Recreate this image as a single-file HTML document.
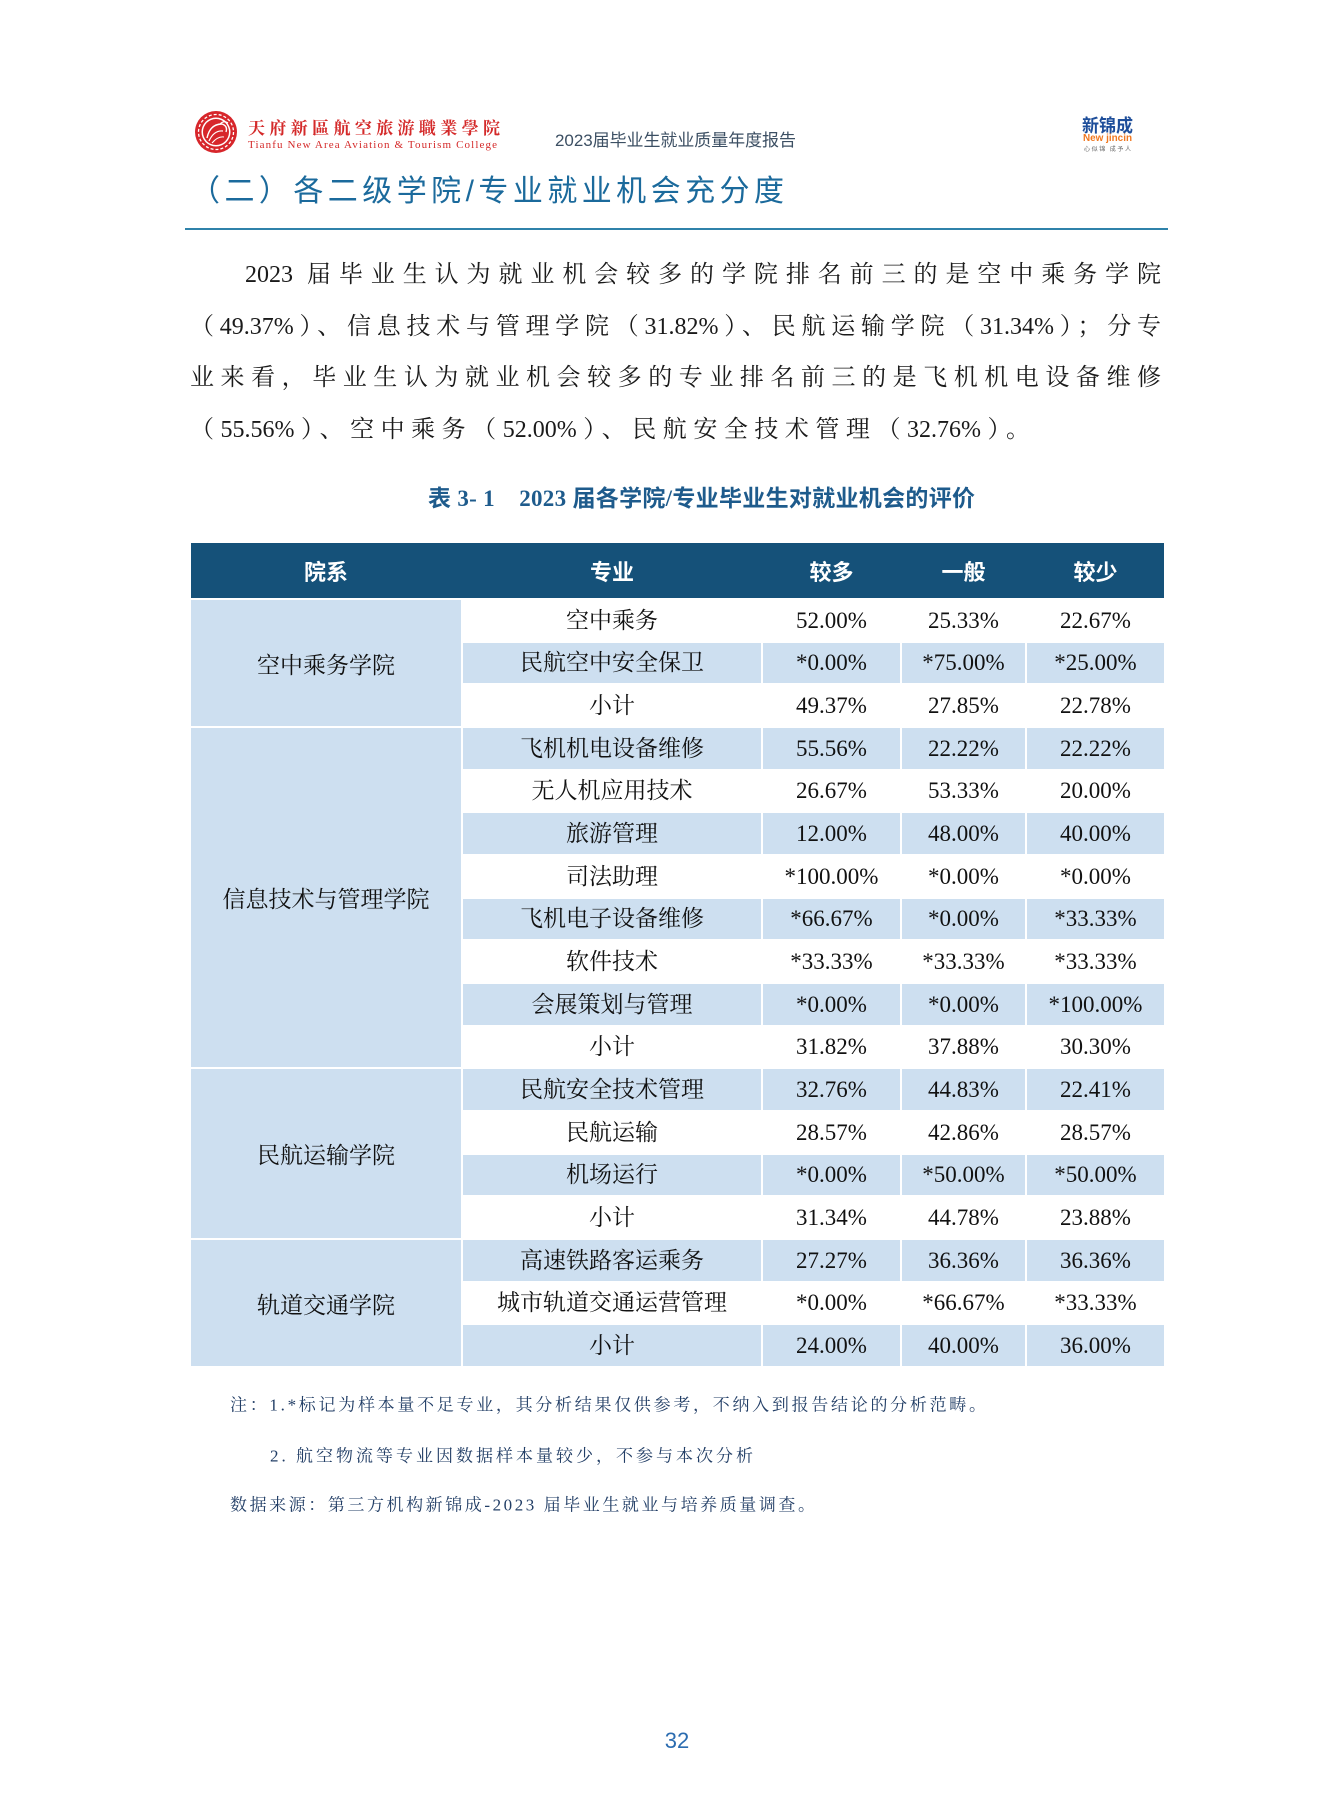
<!DOCTYPE html>
<html lang="zh-CN">
<head>
<meta charset="utf-8">
<style>
  html,body{margin:0;padding:0;background:#fff;}
  body{width:1323px;height:1795px;position:relative;overflow:hidden;}
  .abs{position:absolute;}
  .title{position:absolute;left:190px;top:170px;height:44px;line-height:44px;font-family:"Liberation Sans","Noto Sans CJK SC",sans-serif;font-size:30px;letter-spacing:4.45px;color:#1b6a9c;white-space:nowrap;}
  .rule{position:absolute;left:185px;top:228px;width:983px;height:2px;background:#2f82aa;}
  .pl{position:absolute;height:52px;line-height:52px;font-family:"Liberation Serif","Noto Serif CJK SC",serif;font-size:24px;color:#1a1a1a;text-align:justify;text-align-last:justify;}
  .n{font-family:"Liberation Serif",serif;}
  .hdr{position:absolute;left:191px;top:543px;width:973px;height:55px;background:#155179;}
  .h{position:absolute;top:543px;height:55px;display:flex;align-items:center;justify-content:center;color:#fff;font-family:"Liberation Sans","Noto Sans CJK SC",sans-serif;font-weight:bold;font-size:22px;}
  .r{position:absolute;left:0;width:1323px;height:40.67px;}
  .c{position:absolute;top:0;height:40.67px;display:flex;align-items:center;justify-content:center;font-family:"Liberation Serif","Noto Serif CJK SC",serif;font-size:23px;color:#111;line-height:1;white-space:nowrap;}
  .s .c{background:#cddff0;}
  .m{left:463px;width:298px;}
  .a{left:763px;width:137px;}
  .b{left:902px;width:123px;}
  .d{left:1027px;width:137px;}
  .col{position:absolute;left:191px;width:270px;background:#cddff0;display:flex;align-items:center;justify-content:center;font-family:"Liberation Serif","Noto Serif CJK SC",serif;font-size:23px;color:#111;}
</style>
</head>
<body>

<!-- Header logos -->
<svg class="abs" style="left:0;top:0" width="1323" height="240" xmlns="http://www.w3.org/2000/svg">
  <circle cx="216" cy="132" r="21" fill="#d7262b"/>
  <circle cx="216" cy="132" r="17.5" fill="none" stroke="#fff" stroke-width="1.3" stroke-dasharray="3 2"/>
  <circle cx="216" cy="132" r="14.5" fill="#fff"/>
  <circle cx="216" cy="132" r="13" fill="#d7262b"/>
  <path d="M207 138 Q210 124 222 124 Q228 126 226 132" fill="none" stroke="#fff" stroke-width="1.4"/>
  <path d="M209 141 Q214 130 223 131" fill="none" stroke="#fff" stroke-width="1.2"/>
  <path d="M212 143 Q218 136 224 137" fill="none" stroke="#fff" stroke-width="1.1"/>
  <path d="M220 124 Q224 120 228 123" fill="none" stroke="#fff" stroke-width="1.2"/>
  <text x="248" y="134" font-family="'Liberation Serif','Noto Serif CJK TC',serif" font-size="17" font-weight="bold" fill="#d42a2a" textLength="252" lengthAdjust="spacing">天府新區航空旅游職業學院</text>
  <text x="248" y="148" font-family="'Liberation Serif',serif" font-size="11" fill="#d42a2a" textLength="249" lengthAdjust="spacing">Tianfu New Area Aviation &amp; Tourism College</text>
  <text x="555" y="146" font-family="'Liberation Sans','Noto Sans CJK SC',sans-serif" font-size="17" fill="#3c4f63" textLength="241" lengthAdjust="spacing">2023届毕业生就业质量年度报告</text>
  <text x="1082" y="132" font-family="'Noto Sans CJK SC',sans-serif" font-size="18" font-weight="bold" fill="#1e4e9a" textLength="51" lengthAdjust="spacingAndGlyphs">新锦成</text>
  <text x="1083" y="141" font-family="'Liberation Sans',sans-serif" font-size="10" font-weight="bold" fill="#f07820" textLength="49" lengthAdjust="spacingAndGlyphs">New jincin</text>
  <text x="1084" y="151" font-family="'Noto Sans CJK SC',sans-serif" font-size="6" fill="#666" textLength="47" lengthAdjust="spacing">心似锦 成予人</text>
</svg>

<div class="title">（二）各二级学院/专业就业机会充分度</div>
<div class="rule"></div>

<div class="pl" style="left:245px;top:249px;width:916px;"><span class="n">2023</span> 届毕业生认为就业机会较多的学院排名前三的是空中乘务学院</div>
<div class="pl" style="left:190px;top:300.5px;width:971px;">（<span class="n">49.37%</span>）、信息技术与管理学院（<span class="n">31.82%</span>）、民航运输学院（<span class="n">31.34%</span>）；分专</div>
<div class="pl" style="left:190px;top:352px;width:971px;">业来看，毕业生认为就业机会较多的专业排名前三的是飞机机电设备维修</div>
<div class="pl" style="left:190px;top:403.5px;width:840px;">（<span class="n">55.56%</span>）、空中乘务（<span class="n">52.00%</span>）、民航安全技术管理（<span class="n">32.76%</span>）。</div>

<svg class="abs" style="left:0;top:470px" width="1323" height="60" xmlns="http://www.w3.org/2000/svg">
  <text x="428" y="36" font-family="'Liberation Serif','Noto Sans CJK SC',sans-serif" font-size="23" font-weight="bold" fill="#1e5b8c" textLength="547" lengthAdjust="spacing" xml:space="preserve">表 3- 1    2023 届各学院/专业毕业生对就业机会的评价</text>
</svg>

<div class="hdr"></div>
<div class="h" style="left:191px;width:270px;">院系</div>
<div class="h" style="left:463px;width:298px;">专业</div>
<div class="h" style="left:763px;width:137px;">较多</div>
<div class="h" style="left:902px;width:123px;">一般</div>
<div class="h" style="left:1027px;width:137px;">较少</div>

<div class="col" style="top:600px;height:126px;">空中乘务学院</div>
<div class="col" style="top:728px;height:339.33px;">信息技术与管理学院</div>
<div class="col" style="top:1069.33px;height:168.67px;">民航运输学院</div>
<div class="col" style="top:1240px;height:126px;">轨道交通学院</div>

<div class="r" style="top:600px;"><div class="c m">空中乘务</div><div class="c a">52.00%</div><div class="c b">25.33%</div><div class="c d">22.67%</div></div>
<div class="r s" style="top:642.67px;"><div class="c m">民航空中安全保卫</div><div class="c a">*0.00%</div><div class="c b">*75.00%</div><div class="c d">*25.00%</div></div>
<div class="r" style="top:685.33px;"><div class="c m">小计</div><div class="c a">49.37%</div><div class="c b">27.85%</div><div class="c d">22.78%</div></div>
<div class="r s" style="top:728px;"><div class="c m">飞机机电设备维修</div><div class="c a">55.56%</div><div class="c b">22.22%</div><div class="c d">22.22%</div></div>
<div class="r" style="top:770.67px;"><div class="c m">无人机应用技术</div><div class="c a">26.67%</div><div class="c b">53.33%</div><div class="c d">20.00%</div></div>
<div class="r s" style="top:813.33px;"><div class="c m">旅游管理</div><div class="c a">12.00%</div><div class="c b">48.00%</div><div class="c d">40.00%</div></div>
<div class="r" style="top:856px;"><div class="c m">司法助理</div><div class="c a">*100.00%</div><div class="c b">*0.00%</div><div class="c d">*0.00%</div></div>
<div class="r s" style="top:898.67px;"><div class="c m">飞机电子设备维修</div><div class="c a">*66.67%</div><div class="c b">*0.00%</div><div class="c d">*33.33%</div></div>
<div class="r" style="top:941.33px;"><div class="c m">软件技术</div><div class="c a">*33.33%</div><div class="c b">*33.33%</div><div class="c d">*33.33%</div></div>
<div class="r s" style="top:984px;"><div class="c m">会展策划与管理</div><div class="c a">*0.00%</div><div class="c b">*0.00%</div><div class="c d">*100.00%</div></div>
<div class="r" style="top:1026.67px;"><div class="c m">小计</div><div class="c a">31.82%</div><div class="c b">37.88%</div><div class="c d">30.30%</div></div>
<div class="r s" style="top:1069.33px;"><div class="c m">民航安全技术管理</div><div class="c a">32.76%</div><div class="c b">44.83%</div><div class="c d">22.41%</div></div>
<div class="r" style="top:1112px;"><div class="c m">民航运输</div><div class="c a">28.57%</div><div class="c b">42.86%</div><div class="c d">28.57%</div></div>
<div class="r s" style="top:1154.67px;"><div class="c m">机场运行</div><div class="c a">*0.00%</div><div class="c b">*50.00%</div><div class="c d">*50.00%</div></div>
<div class="r" style="top:1197.33px;"><div class="c m">小计</div><div class="c a">31.34%</div><div class="c b">44.78%</div><div class="c d">23.88%</div></div>
<div class="r s" style="top:1240px;"><div class="c m">高速铁路客运乘务</div><div class="c a">27.27%</div><div class="c b">36.36%</div><div class="c d">36.36%</div></div>
<div class="r" style="top:1282.67px;"><div class="c m">城市轨道交通运营管理</div><div class="c a">*0.00%</div><div class="c b">*66.67%</div><div class="c d">*33.33%</div></div>
<div class="r s" style="top:1325.33px;"><div class="c m">小计</div><div class="c a">24.00%</div><div class="c b">40.00%</div><div class="c d">36.00%</div></div>

<svg class="abs" style="left:0;top:1370px" width="1323" height="170" xmlns="http://www.w3.org/2000/svg">
  <g font-family="'Liberation Serif','Noto Serif CJK SC',serif" font-size="17" fill="#223e66">
    <text x="230" y="40.5" textLength="756" lengthAdjust="spacing">注：1.*标记为样本量不足专业，其分析结果仅供参考，不纳入到报告结论的分析范畴。</text>
    <text x="270" y="91.5" textLength="483" lengthAdjust="spacing">2. 航空物流等专业因数据样本量较少，不参与本次分析</text>
    <text x="230" y="140.5" textLength="585" lengthAdjust="spacing">数据来源：第三方机构新锦成-2023 届毕业生就业与培养质量调查。</text>
  </g>
</svg>

<div class="abs" style="left:640px;top:1728px;width:74px;height:26px;line-height:26px;text-align:center;font-family:'Liberation Sans',sans-serif;font-size:22px;color:#2b6cb0;">32</div>

</body>
</html>
